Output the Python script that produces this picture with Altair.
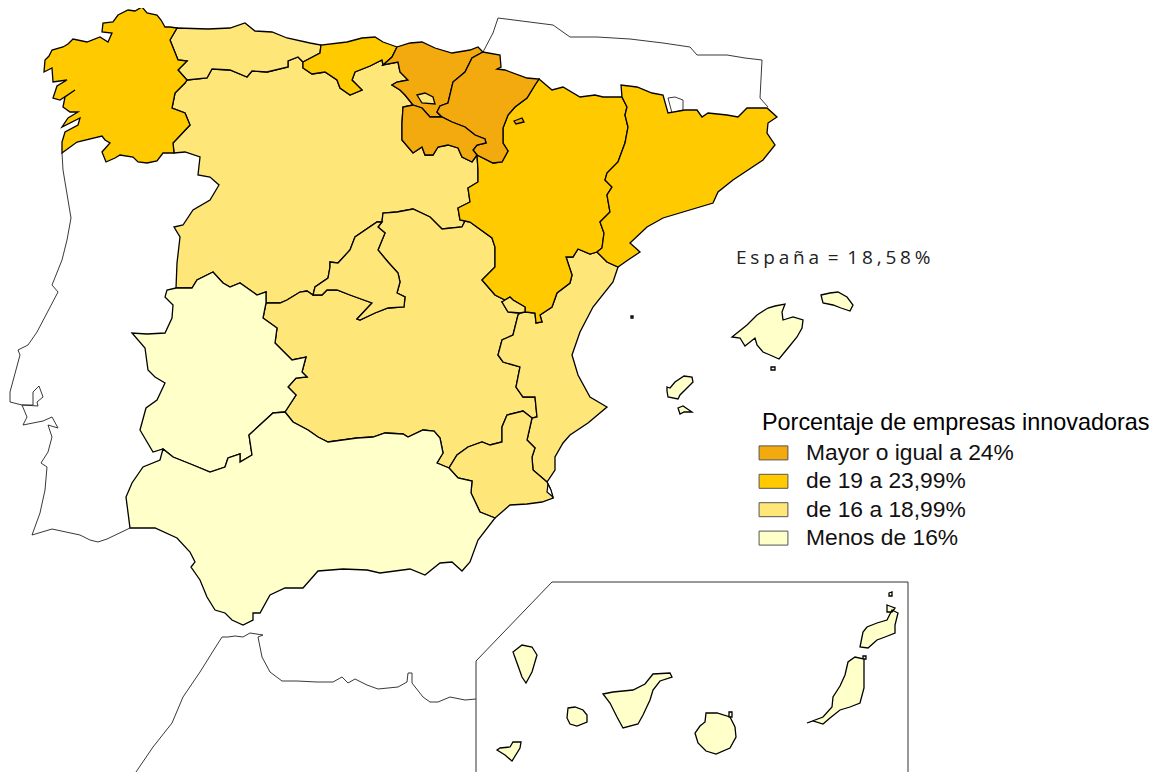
import altair as alt

# Class labels and colours
CLASES = ["Mayor o igual a 24%", "de 19 a 23,99%", "de 16 a 18,99%", "Menos de 16%"]
COLORES = ["#F2AA0F", "#FFCB00", "#FFE679", "#FFFFCA"]

# Shared boundaries (x, y in the picture's pixels)
gal_coast = [(177,28),(170,27),(165,27),(161,20),(157,15),(147,13),(142,7),(135,11),(128,10),(118,15),(113,22),(103,23),(102,32),(112,33),(108,42),(100,37),(87,42),(73,39),(68,44),(63,47),(52,50),(49,56),(45,60),(44,72),(52,68),(53,82),(67,80),(57,86),(53,98),(60,100),(75,90),(65,97),(63,107),(70,112),(78,112),(68,118),(62,127),(80,118),(78,125),(65,132),(62,142),(62,153)]
gal_port = [(77,142),(102,136),(105,140),(110,143),(102,152),(106,162),(115,158),(120,155),(133,157),(138,162),(147,163),(157,161),(163,153),(174,153)]
gal_cyl = [(174,153),(173,143),(190,125),(185,113),(172,108),(175,93),(185,83),(187,80)]
gal_ast = [(187,80),(178,70),(187,61),(178,60),(170,40),(177,28)]
ast_coast = [(177,28),(208,29),(230,28),(245,23),(255,31),(272,32),(287,38),(310,43),(321,45)]
ast_cant = [(321,45),(320,53),(303,62)]
ast_cyl = [(187,80),(207,78),(212,69),(230,70),(247,77),(252,71),(267,72),(288,67),(288,61),(298,57),(303,62)]
cant_coast = [(321,45),(347,42),(362,38),(375,37),(383,42),(397,47)]
cant_pv = [(397,47),(392,57),(383,65)]
cant_cyl = [(303,62),(303,68),(312,74),(325,72),(337,80),(340,88),(350,95),(362,90),(352,80),(355,72),(370,66),(382,60),(383,65)]
pv_coast = [(397,47),(410,43),(422,42),(435,48),(452,53),(470,50),(478,47),(483,52)]
pv_nav = [(483,52),(472,58),(465,72),(453,82),(448,103),(440,106),(437,112),(442,117)]
pv_rioja = [(442,117),(430,117),(422,108),(413,105)]
pv_cyl = [(413,105),(405,95),(400,90),(392,85),(397,82),(408,80),(400,72),(398,62),(383,65)]
rioja_nav = [(442,117),(452,122),(465,127),(475,135),(485,139),(486,143),(477,145),(473,150),(477,155)]
rioja_cyl = [(477,155),(472,162),(462,157),(458,148),(448,145),(438,147),(433,155),(425,155),(422,147),(413,153),(402,140),(402,123),(403,107),(413,105)]
nav_fr = [(483,52),(500,55),(501,67),(497,69),(505,70),(527,78),(539,79)]
nav_ara = [(539,79),(535,85),(527,98),(515,107),(508,115),(503,128),(503,143),(508,151),(502,162),(493,163),(477,155)]
ara_fr = [(539,79),(552,90),(563,87),(580,97),(595,95),(603,97),(622,97)]
ara_cat = [(622,97),(627,107),(625,115),(628,127),(625,143),(618,162),(607,173),(605,180),(612,187),(607,195),(610,212),(600,222),(604,233),(602,248),(597,252)]
ara_val = [(597,252),(590,254),(578,249),(573,257),(566,257),(572,275),(570,283),(557,293),(552,307),(540,315),(542,322),(536,323),(535,313),(525,312)]
ara_clm = [(525,307),(513,300),(510,297),(505,300),(495,295),(482,280),(495,267),(495,247),(492,238),(470,222),(465,221)]
ara_cyl = [(465,221),(460,220),(458,208),(470,202),(468,188),(478,182),(478,170),(477,155)]
cat_north = [(622,97),(621,85),(637,87),(652,93),(663,95),(668,113),(685,110),(697,110),(702,117),(708,113),(727,115),(738,117),(747,108),(767,108),(777,117),(768,123),(767,133),(775,145),(763,160),(733,180),(718,192),(713,203),(663,218),(647,227),(630,243),(640,252),(628,260),(618,267)]
cat_val = [(597,252),(607,262),(618,267)]
val_coast = [(618,267),(613,282),(593,307),(580,332),(572,355),(578,375),(590,397),(607,407),(588,423),(570,435),(563,443),(555,457),(555,470),(547,482)]
val_mur = [(547,482),(533,470),(532,457),(535,448),(527,440),(532,418)]
val_clm = [(518,315),(513,335),(502,340),(498,355),(503,362),(520,367),(516,387),(523,397),(535,397),(537,417),(532,418)]
mur_top = [(532,418),(523,411),(507,415),(502,427),(502,442),(490,445),(482,442),(468,447),(457,455),(449,468)]
mur_and = [(449,468),(458,478),(472,481),(471,493),(480,512),(495,518)]
mur_coast = [(495,518),(510,505),(527,504),(542,502),(553,498),(550,488),(547,482)]
clm_and = [(449,468),(437,463),(443,453),(440,438),(434,431),(423,430),(408,437),(403,434),(385,433),(373,437),(357,438),(328,442),(318,437),(308,430),(293,422),(285,412)]
clm_ext = [(285,412),(296,395),(288,387),(296,378),(307,377),(302,372),(306,357),(292,360),(275,343),(277,328),(263,318),(266,303)]
cyl_clm_w = [(266,303),(280,303),(287,300),(300,292),(307,291),(313,295)]
mad_s = [(313,295),(322,295),(327,290),(337,290),(350,295),(372,303),(357,319),(360,320),(375,313),(388,308),(404,307),(405,297),(397,293),(400,282),(398,273),(388,262),(378,250),(385,233),(378,227),(382,222)]
mad_n = [(382,222),(377,222),(355,237),(350,250),(338,263),(330,262),(330,267),(328,278),(315,287),(313,295)]
clm_cyl_e = [(382,222),(383,213),(397,212),(413,209),(430,217),(442,229),(462,227),(465,221)]
ext_cyl = [(176,288),(192,288),(197,280),(213,272),(223,283),(230,287),(240,283),(257,295),(266,292),(266,303)]
ext_port = [(163,449),(153,452),(140,430),(146,408),(157,400),(165,383),(155,377),(148,370),(145,348),(132,333),(147,334),(165,333),(172,318),(173,305),(165,297),(167,290),(176,288)]
and_ext = [(163,449),(173,457),(193,465),(210,472),(225,467),(228,458),(240,454),(240,462),(252,455),(249,435),(273,413),(285,412)]
and_coast = [(163,449),(160,460),(143,467),(132,483),(126,497),(130,528),(155,528),(177,538),(190,552),(195,562),(191,567),(200,580),(207,597),(215,610),(225,613),(232,620),(243,625),(253,620),(253,613),(260,613),(270,595),(285,588),(303,588),(318,571),(343,569),(367,570),(380,573),(410,569),(425,575),(440,563),(452,562),(462,571),(470,562),(478,540),(495,518)]
port_cyl = [(176,288),(177,263),(180,237),(174,227),(183,225),(193,210),(210,200),(219,185),(210,177),(198,175),(200,157),(185,152),(174,153)]

# Islands and enclaves
trevino = [(417,95),(425,93),(433,97),(435,104),(422,103)]
rincon = [(525,307),(513,300),(510,297),(505,300),(502,302),(508,312),(520,313),(525,312)]
petilla = [(514,121),(522,118),(524,122),(516,124)]
mallorca = [(732,337),(747,325),(757,315),(768,308),(775,306),(785,304),(782,312),(783,320),(793,317),(803,320),(802,328),(797,337),(788,348),(779,359),(770,355),(763,352),(757,345),(755,338),(745,346),(740,338)]
menorca = [(821,295),(830,293),(838,292),(847,297),(853,305),(850,311),(841,308),(833,305),(823,303)]
ibiza = [(667,387),(670,388),(675,382),(684,376),(692,377),(693,382),(688,387),(680,395),(678,399),(668,397),(667,391)]
formentera = [(678,408),(683,406),(692,412),(684,412),(680,414)]
cabrera = [(771,367),(775,367),(775,370),(771,370)]
columbrete = [(631,316),(633,316),(633,318),(631,318)]
lapalma = [(513,652),(522,645),(532,647),(537,655),(532,672),(526,683),(522,677),(517,663)]
tenerife = [(603,694),(613,692),(633,690),(645,684),(653,674),(670,673),(672,677),(660,681),(653,690),(650,700),(643,715),(638,724),(623,728),(617,717),(610,703)]
gomera = [(568,708),(575,707),(583,710),(587,715),(587,722),(577,726),(570,724),(567,718)]
hierro = [(497,750),(500,748),(510,747),(513,742),(521,742),(520,748),(512,761),(505,755)]
grancanaria = [(706,713),(717,713),(730,717),(735,727),(736,737),(730,748),(716,754),(706,751),(698,743),(695,733),(700,726),(705,722)]
fuerteventura = [(807,723),(823,717),(832,707),(833,697),(840,686),(845,675),(848,662),(855,657),(864,659),(864,676),(864,688),(860,703),(850,707),(840,710),(830,718),(823,724),(813,721)]
lanzarote = [(860,647),(863,632),(867,627),(877,623),(887,620),(892,610),(898,613),(895,625),(895,633),(885,637),(877,640),(868,648)]
graciosa = [(887,605),(895,608),(892,612),(887,612)]
alegranza = [(889,593),(892,592),(892,596),(889,596)]
lobos = [(863,656),(866,656),(866,659),(863,659)]
islote = [(729,712),(732,712),(732,717),(729,717)]

# Outlines of the neighbours and of the inset
portugal = [(62,153),(63,170),(68,200),(71,218),(67,240),(62,260),(52,285),(58,292),(37,332),(28,345),(18,350),(20,355),(10,392),(10,402),(22,405),(33,405),(33,392),(39,386),(43,397),(37,402),(38,406),(22,405),(27,417),(23,425),(33,423),(43,421),(52,417),(58,428),(48,425),(52,437),(48,452),(41,463),(47,467),(45,490),(40,513),(32,535),(52,529),(80,535),(90,540),(98,542),(107,539),(130,528)]
francia = [(483,52),(493,33),(498,18),(553,25),(570,37),(597,37),(630,39),(663,43),(690,47),(697,55),(727,55),(745,58),(762,60),(760,98),(768,107)]
andorra = [(668,98),(675,97),(683,100),(683,110),(672,113)]
marruecos = [(136,772),(153,747),(172,723),(183,697),(200,672),(215,648),(222,637),(228,637),(235,636),(243,637),(250,633),(263,635),(258,637),(262,657),(270,672),(282,681),(297,681),(317,682),(333,682),(342,677),(348,683),(355,679),(367,685),(378,689),(398,687),(407,682),(408,673),(412,673),(412,683),(423,697),(430,702),(438,702),(450,697),(465,700),(476,699)]
recuadro = [(476,772),(476,661),(552,582),(908,582),(908,772)]
mar_menor = [(548,484),(551,490),(553,497),(547,492)]


def rv(chain):
    return chain[::-1]


def ring(*chains):
    pts = [p for c in chains for p in c]
    return pts + [pts[0]]


def region(pts_list, clase):
    return {"type": "Feature", "properties": {"clase": CLASES[clase]},
            "geometry": {"type": "MultiPolygon", "coordinates": [[[list(p) for p in r]] for r in pts_list]}}


def linea(pts):
    return {"type": "Feature", "properties": {},
            "geometry": {"type": "LineString", "coordinates": [list(p) for p in pts]}}


galicia = ring(gal_coast, gal_port, gal_cyl, gal_ast)
asturias = ring(gal_ast, ast_coast, ast_cant, rv(ast_cyl))
cantabria = ring(rv(ast_cant), cant_coast, cant_pv, rv(cant_cyl))
pais_vasco = ring(rv(cant_pv), pv_coast, pv_nav, pv_rioja, pv_cyl)
la_rioja = ring(rv(pv_rioja), rioja_nav, rioja_cyl)
navarra = ring(rv(pv_nav), nav_fr, nav_ara, rv(rioja_nav))
aragon = ring(rv(nav_ara), ara_fr, ara_cat, ara_val, ara_clm, ara_cyl)
cataluna = ring(rv(ara_cat), cat_north, rv(cat_val))
valencia = ring(ara_val, [(520,313)], val_clm, rv(val_mur), rv(val_coast), rv(cat_val))
murcia = ring(mur_top, mur_and, mur_coast, val_mur)
madrid = ring(mad_s, mad_n)
clm = ring(cyl_clm_w, mad_s, clm_cyl_e, rv(ara_clm), [(502,302),(508,312),(520,313)], val_clm, mur_top, clm_and, clm_ext)
cyl = ring(ast_cyl, cant_cyl, rv(pv_cyl), rv(rioja_cyl), rv(ara_cyl), rv(clm_cyl_e), mad_n, rv(cyl_clm_w), rv(ext_cyl), port_cyl, gal_cyl)
extremadura = ring(ext_cyl, rv(clm_ext), rv(and_ext), ext_port)
andalucia = ring(and_coast, rv(mur_and), clm_and, rv(and_ext))

regiones = [
    region([cyl], 2), region([clm], 2), region([madrid], 2), region([valencia], 2),
    region([murcia], 2), region([asturias], 2),
    region([extremadura], 3), region([andalucia], 3),
    region([galicia], 1), region([cantabria], 1), region([aragon], 1), region([cataluna], 1),
    region([pais_vasco], 0), region([navarra], 0), region([la_rioja], 0),
    region([trevino + trevino[:1]], 2), region([rincon + rincon[:1]], 2),
    region([petilla + petilla[:1]], 0),
    region([ring(x) for x in (mallorca, menorca, ibiza, formentera, cabrera, columbrete, lapalma, tenerife, gomera,
                              hierro, grancanaria, fuerteventura, lanzarote, graciosa, alegranza, lobos, islote)], 3),
]
contornos = [linea(portugal), linea(francia), linea(andorra + andorra[:1]), linea(marruecos)]
marco = [linea(recuadro)]
agua = [region([ring(mar_menor)], 3)]

proy = dict(type="identity", scale=1, translate=[-8, -8])

fondo = alt.Chart(alt.Data(values=contornos)).mark_geoshape(filled=False, stroke="#222222", strokeWidth=0.9).project(**proy)
cuadro = alt.Chart(alt.Data(values=marco)).mark_geoshape(filled=False, stroke="#333333", strokeWidth=1).project(**proy)
mapa = alt.Chart(alt.Data(values=regiones)).mark_geoshape(stroke="#000000", strokeWidth=1.3).encode(
    color=alt.Color("properties.clase:N",
                    scale=alt.Scale(domain=CLASES, range=COLORES),
                    legend=alt.Legend(
                        title="Porcentaje de empresas innovadoras",
                        orient="none", legendX=754, legendY=404,
                        titleFont="Liberation Sans", titleFontSize=23.4, titleFontWeight="normal", titleColor="#000",
                        titlePadding=3, titleLimit=500,
                        labelFont="Liberation Sans", labelFontSize=22.8, labelColor="#111", labelOffset=18, labelLimit=400,
                        symbolType="M-1.03,-0.5H1.03V0.5H-1.03Z", symbolSize=784, symbolOpacity=1, symbolOffset=-3,
                        symbolStrokeColor="#555555", symbolStrokeWidth=1, rowPadding=1.4,
                    )),
).project(**proy)
bahia = alt.Chart(alt.Data(values=agua)).mark_geoshape(fill="white", stroke="#000000", strokeWidth=1.2).project(**proy)

H = "\u200a\u200a"
texto = alt.Chart(alt.Data(values=[{"t": H.join("España") + H + " = " + H + H.join("18,58%")}])).mark_text(
    font="Open Sans", fontSize=19, align="left", baseline="middle", color="#222222"
).encode(x=alt.value(728), y=alt.value(250), text="t:N")

chart = alt.layer(fondo, cuadro, mapa, bahia, texto).properties(
    width=1143, height=764, padding=0, autosize="none",
    background="white",
).configure_view(stroke=None)

chart.save("out.html", embed_options={"renderer": "svg", "actions": False})
